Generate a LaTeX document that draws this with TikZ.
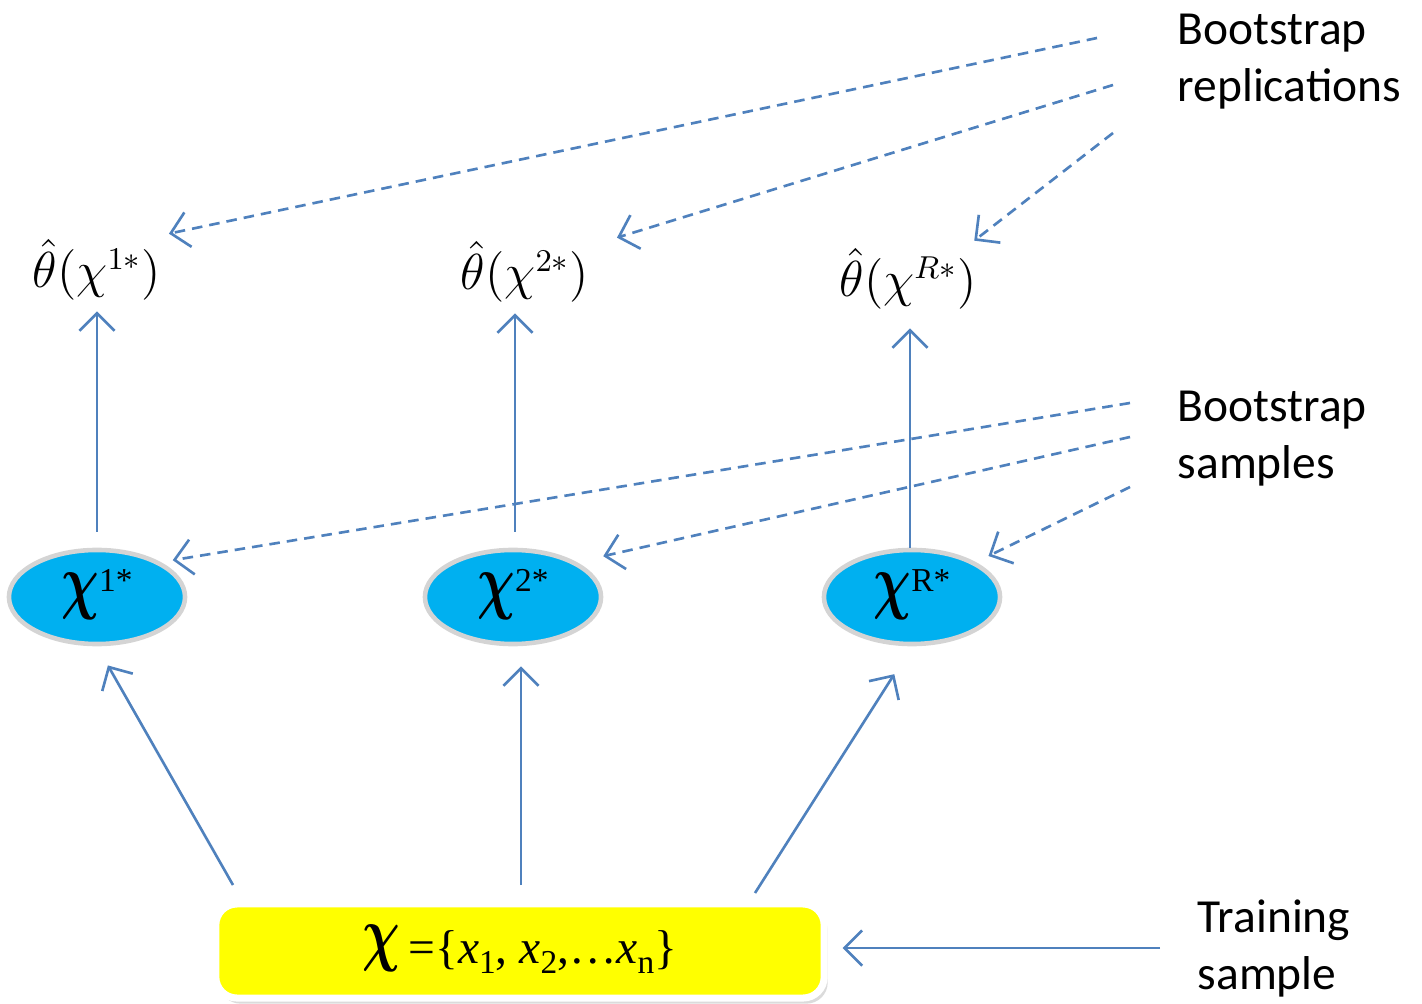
\documentclass[tikz,border=0pt]{standalone}
\usepackage{fontspec}
\usetikzlibrary{positioning,arrows.meta,shapes.geometric,shadows}
\newfontfamily\tnrfont{Liberation Serif}
\newfontfamily\calfont{Carlito}
\definecolor{arrowBlue}{HTML}{4F81BD}
\definecolor{sampleCyan}{HTML}{00B0F0}
\definecolor{rimGray}{HTML}{D4D4D4}
\definecolor{trainYellow}{HTML}{FFFF00}
\newcommand{\bigchi}{{\fontsize{20}{20}\selectfont\scalebox{0.72}[1]{\boldmath$\chi$}}}
\newcommand{\supidx}[1]{\raisebox{3.7pt}{\fontsize{9.5}{9.5}\selectfont #1}}
\newcommand{\subidx}[1]{\raisebox{-0.22em}{\fontsize{9.5}{9.5}\selectfont #1}}
\tikzset{
    sample/.style={ellipse,draw=rimGray,fill=sampleCyan,line width=1.3pt,
        minimum width=1.76cm,minimum height=0.94cm,inner sep=0pt,
        text height=0.26cm,text depth=0.1cm,
        font=\tnrfont\fontsize{13.5}{13.5}\selectfont},
    estimate/.style={inner sep=2pt,font=\fontsize{13.5}{16}\selectfont},
    trainbox/.style={draw=white,line width=2pt,fill=trainYellow,rounded corners=6pt,
        minimum width=6.08cm,minimum height=0.94cm,
        text height=0.34cm,text depth=0.1cm,
        drop shadow={shadow xshift=1pt,shadow yshift=-1.6pt,fill=black!28},
        font=\tnrfont\fontsize{13.5}{13.5}\selectfont},
    sidelabel/.style={anchor=north west,inner sep=0pt,align=left,
        font=\calfont\fontsize{13.5}{16.3}\selectfont},
    arrow/.style={-{Straight Barb[length=5pt,width=10pt]},draw=arrowBlue,line width=0.75pt},
    dasharrow/.style={arrow,dash pattern=on 3pt off 2pt}
}
\begin{document}
\begin{tikzpicture}[x=0.01cm,y=-0.01cm]
    \useasboundingbox (0,0) rectangle (1422,1004);
    % training sample
    \node[trainbox] (train) at (520,951) {\raisebox{1.5pt}{\bigchi}\,=\{{\itshape x}\subidx{1}, {\itshape x}\subidx{2},\ldots{\itshape x}\subidx{n}\}};
    % bootstrap samples
    \node[sample] (s1) at (97,597) {\bigchi\supidx{1*}};
    \node[sample] (s2) at (513,597) {\bigchi\supidx{2*}};
    \node[sample] (sR) at (912,597) {\bigchi\supidx{R*}};
    % bootstrap replications
    \node[estimate] (t1) at (97,270) {$\hat{\theta}(\chi^{1*})$};
    \node[estimate] (t2) at (525,272) {$\hat{\theta}(\chi^{2*})$};
    \node[estimate] (tR) at (908,279) {$\hat{\theta}(\chi^{R*})$};
    % labels on the right
    \node[sidelabel] (lrep) at (1177,13) {Bootstrap\\replications};
    \node[sidelabel] (lsam) at (1177,390) {Bootstrap\\samples};
    \node[sidelabel] (ltrn) at (1197,899) {Training\\sample};
    % free ends
    \coordinate (f1) at (233,885);
    \coordinate (f2) at (521,885);
    \coordinate (f3) at (755,893);
    \coordinate (tin) at (1160,948);
    \coordinate (r1) at (1097,38);
    \coordinate (r2) at (1113,85);
    \coordinate (r3) at (1113,133);
    \coordinate (m1) at (1130,403);
    \coordinate (m2) at (1130,437);
    \coordinate (m3) at (1130,487);
    % solid arrows
    \draw[arrow,shorten >=0.22cm] (f1) -- (s1.south);
    \draw[arrow,shorten >=0.2cm] (f2) -- (f2 |- s2.south);
    \draw[arrow,shorten >=0.33cm] (f3) -- (sR.south);
    \draw[arrow,shorten <=0.16cm,shorten >=0.03cm] (s1.north) -- (s1.north |- t1.south);
    \draw[arrow,shorten <=0.16cm,shorten >=0.03cm] ([xshift=0.02cm]s2.north) -- ([xshift=0.02cm]s2.north |- t2.south);
    \draw[arrow,shorten >=0.11cm] ([xshift=-0.02cm]sR.north) -- ([xshift=-0.02cm]sR.north |- tR.south);
    \draw[arrow,shorten >=0.15cm] (tin) -- (tin -| train.east);
    % dashed arrows
    \draw[dasharrow] (r1) -- ([xshift=0.0cm,yshift=-0.02cm]t1.north east);
    \draw[dasharrow] (r2) -- ([xshift=0.2cm,yshift=-0.04cm]t2.north east);
    \draw[dasharrow] (r3) -- ([xshift=-0.1cm]tR.north east);
    \draw[dasharrow,shorten >=0.12cm] (m1) -- (s1.north east);
    \draw[dasharrow,shorten >=0.27cm] (m2) -- (s2.north east);
    \draw[dasharrow,shorten >=0.14cm] (m3) -- (sR.north east);
\end{tikzpicture}
\end{document}
